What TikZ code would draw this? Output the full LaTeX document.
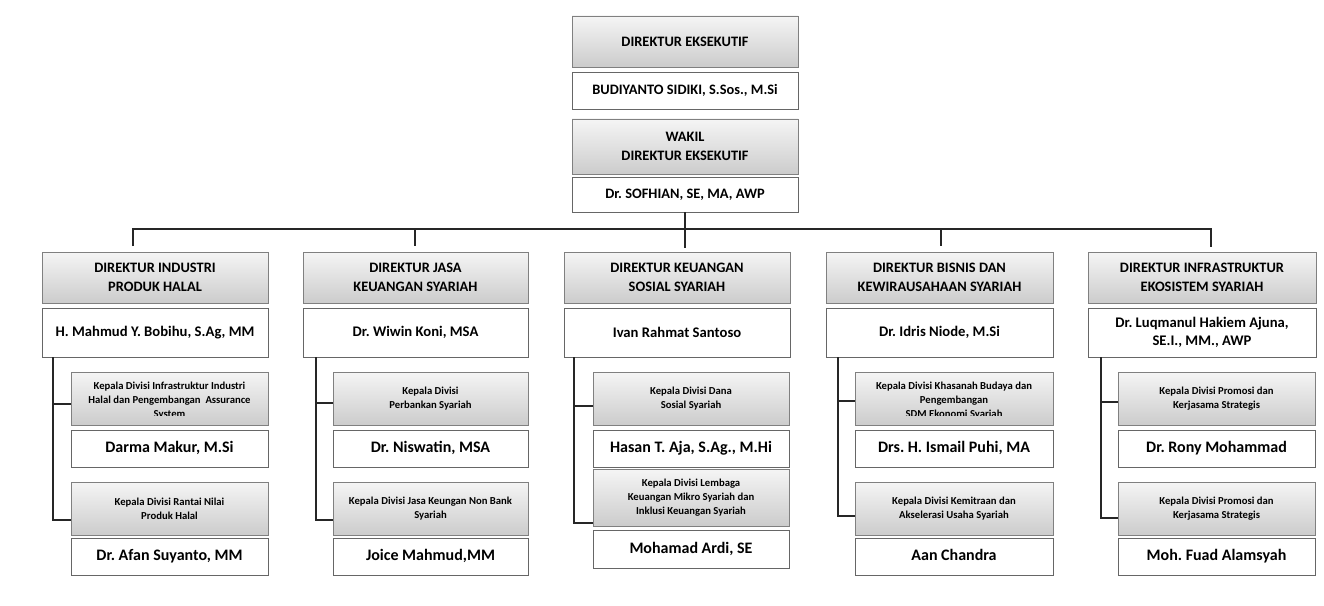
\documentclass[tikz,border=0pt]{standalone}
\usepackage{fontspec}
\setmainfont{Carlito}
\usetikzlibrary{calc}
\frenchspacing
\tikzset{
 x=0.75pt, y=-0.75pt,
 gbox/.style={draw=black!50, line width=0.6pt, top color=black!4, bottom color=black!20, inner sep=0pt, outer sep=0pt, align=center},
 wbox/.style={draw=black!60, line width=0.6pt, fill=white, inner sep=0pt, outer sep=0pt, align=center},
 ttl/.style={gbox, font=\bfseries\fontsize{10.8}{14}\selectfont},
 nm/.style={wbox, font=\bfseries\fontsize{11}{13.5}\selectfont},
 dttl/.style={gbox, font=\bfseries\fontsize{8}{10.5}\selectfont},
 dtxt/.style={font=\bfseries\fontsize{8}{10.5}\selectfont, align=center, inner sep=0pt, anchor=north},
 dnm/.style={wbox, font=\bfseries\fontsize{12}{14}\selectfont, text height=8.6pt, text depth=2.6pt},
 conn/.style={draw=black!85, line width=1pt},
}
\newcommand{\obox}[7]{\node[#2, minimum width={(#5-#3)*0.75pt}, minimum height={(#6-#4)*0.75pt}] (#1) at ({(#3+#5)/2},{(#4+#6)/2}) {#7};}
\begin{document}
\begin{tikzpicture}
\useasboundingbox (0,0) rectangle (1324,606);
% top
\obox{e1}{ttl}{572}{16}{798}{67}{DIREKTUR EKSEKUTIF}
\obox{n1}{nm}{572}{72}{798}{109}{\fontsize{10.8}{13}\selectfont BUDIYANTO SIDIKI, S.Sos., M.Si}
\obox{e2}{ttl}{572}{119}{798}{174}{WAKIL\\DIREKTUR EKSEKUTIF}
\obox{n2}{nm}{572}{177}{798}{212}{\fontsize{10.8}{13}\selectfont Dr. SOFHIAN, SE, MA, AWP}
% column 1
\obox{c1t}{ttl}{42}{252}{268}{303}{DIREKTUR INDUSTRI\\PRODUK HALAL}
\obox{c1n}{nm}{42}{308}{268}{357}{H. Mahmud Y. Bobihu, S.Ag, MM}
\obox{c1d1}{dttl}{71}{372}{268}{425}{}
\begin{scope}
\clip (c1d1.north west) rectangle ([yshift=7.5pt]c1d1.south east);
\node[dtxt] (c1d1x) at ([yshift=-7pt]c1d1.north) {Kepala Divisi Infrastruktur Industri\\Halal dan Pengembangan~~Assurance\\System};
\end{scope}
\obox{c1m1}{dnm}{71}{430}{268}{467}{Darma Makur, M.Si}
\obox{c1d2}{dttl}{71}{482}{268}{535}{Kepala Divisi Rantai Nilai\\Produk Halal}
\obox{c1m2}{dnm}{71}{538}{268}{575}{Dr. Afan Suyanto, MM}
% column 2
\obox{c2t}{ttl}{303}{252}{528}{303}{DIREKTUR JASA\\KEUANGAN SYARIAH}
\obox{c2n}{nm}{303}{308}{528}{357}{Dr. Wiwin Koni, MSA}
\obox{c2d1}{dttl}{333}{372}{528}{425}{Kepala Divisi\\Perbankan Syariah}
\obox{c2m1}{dnm}{333}{430}{528}{467}{Dr. Niswatin, MSA}
\obox{c2d2}{dttl}{333}{482}{528}{535}{Kepala Divisi Jasa Keungan Non Bank\\Syariah}
\obox{c2m2}{dnm}{333}{538}{528}{575}{Joice Mahmud,MM}
% column 3
\obox{c3t}{ttl}{564}{252}{790}{303}{DIREKTUR KEUANGAN\\SOSIAL SYARIAH}
\obox{c3n}{nm}{564}{308}{790}{357}{Ivan Rahmat Santoso}
\obox{c3d1}{dttl}{593}{372}{789}{425}{Kepala Divisi Dana\\Sosial Syariah}
\obox{c3m1}{dnm}{593}{430}{789}{467}{Hasan T. Aja, S.Ag., M.Hi}
\obox{c3d2}{dttl}{593}{469}{789}{526}{Kepala Divisi Lembaga\\Keuangan Mikro Syariah dan\\Inklusi Keuangan Syariah}
\obox{c3m2}{dnm}{593}{530}{789}{568}{Mohamad Ardi, SE}
% column 4
\obox{c4t}{ttl}{826}{252}{1053}{303}{DIREKTUR BISNIS DAN\\KEWIRAUSAHAAN SYARIAH}
\obox{c4n}{nm}{826}{308}{1053}{357}{Dr. Idris Niode, M.Si}
\obox{c4d1}{dttl}{855}{372}{1053}{425}{}
\begin{scope}
\clip (c4d1.north west) rectangle ([yshift=7.5pt]c4d1.south east);
\node[dtxt] (c4d1x) at ([yshift=-7pt]c4d1.north) {Kepala Divisi Khasanah Budaya dan\\Pengembangan\\SDM Ekonomi Syariah};
\end{scope}
\obox{c4m1}{dnm}{855}{430}{1053}{467}{Drs. H. Ismail Puhi, MA}
\obox{c4d2}{dttl}{855}{482}{1053}{535}{Kepala Divisi Kemitraan dan\\Akselerasi Usaha Syariah}
\obox{c4m2}{dnm}{855}{538}{1053}{575}{Aan Chandra}
% column 5
\obox{c5t}{ttl}{1088}{252}{1316}{303}{DIREKTUR INFRASTRUKTUR\\EKOSISTEM SYARIAH}
\obox{c5n}{nm}{1088}{308}{1316}{357}{Dr. Luqmanul Hakiem Ajuna,\\SE.I., MM., AWP}
\obox{c5d1}{dttl}{1118}{372}{1315}{425}{Kepala Divisi Promosi dan\\Kerjasama Strategis}
\obox{c5m1}{dnm}{1118}{430}{1315}{467}{Dr. Rony Mohammad}
\obox{c5d2}{dttl}{1118}{482}{1315}{535}{Kepala Divisi Promosi dan\\Kerjasama Strategis}
\obox{c5m2}{dnm}{1118}{538}{1315}{575}{Moh. Fuad Alamsyah}
% bus
\coordinate (busL) at (133,229);
\coordinate (busR) at (1211,229);
\coordinate (c2j) at (415,229);
\coordinate (c4j) at (941,229);
\draw[conn] ($(c1t.north -| busL)+(0,-6)$) -- (busL) -- (busR) -- ($(c5t.north -| busR)+(0,-5)$);
\draw[conn] (n2.south) -- ($(c3t.north -| n2.south)+(0,-4)$);
\draw[conn] (c2j) -- ($(c2t.north -| c2j)+(0,-6)$);
\draw[conn] (c4j) -- ($(c4t.north -| c4j)+(0,-6)$);
% spines
\foreach \c/\sx/\ba/\bb in {c1/53/404/520, c2/316/403/520, c3/574/406/523, c4/838/401/516, c5/1101/402/518}{
  \coordinate (\c a) at (\sx,\ba);
  \coordinate (\c b) at (\sx,\bb);
  \draw[conn] (\c n.south -| \c a) -- (\c b) -- (\c b -| \c d2.west);
  \draw[conn] (\c a) -- (\c a -| \c d1.west);
}
\end{tikzpicture}
\end{document}
